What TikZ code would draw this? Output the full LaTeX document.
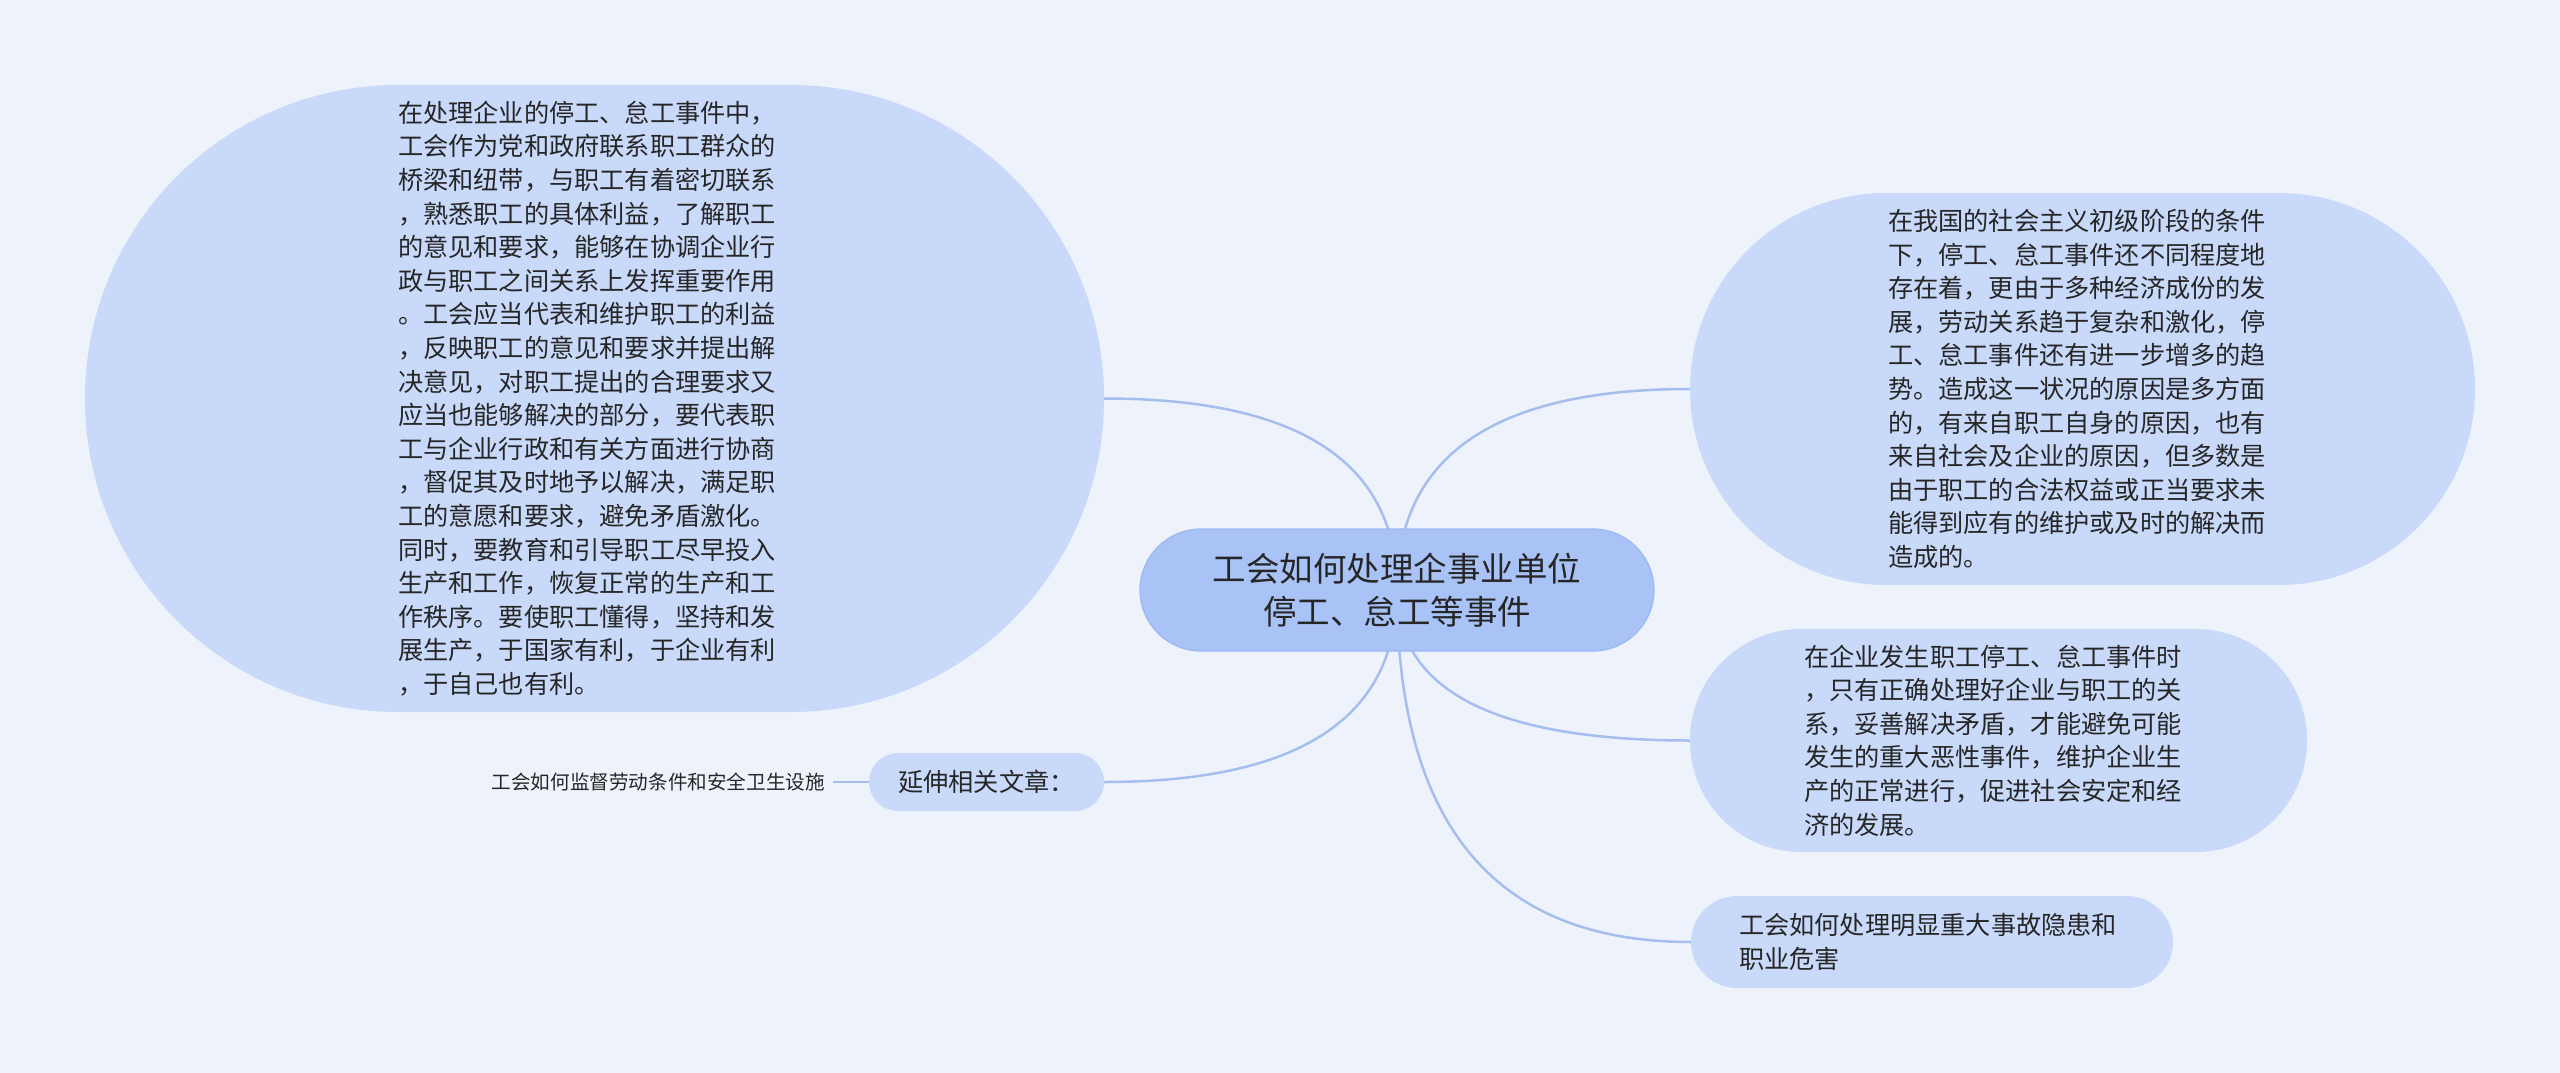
\documentclass[tikz,border=0pt]{standalone}
\usepackage{fontspec}
\setmainfont{Noto Sans CJK SC}
\usetikzlibrary{calc,backgrounds}
\definecolor{bgc}{HTML}{EEF3FB}
\definecolor{nodec}{HTML}{C9D9FA}
\definecolor{rootc}{HTML}{A9C3F7}
\definecolor{rootb}{HTML}{9DB8F2}
\definecolor{linec}{HTML}{A6BEEE}
\definecolor{txt}{HTML}{262626}
\newcommand\mmlink[2]{\draw[link] (#1.center) .. controls ($(#1.center)!0.6667!(#1.center|-#2)$) and ($(#2)!0.6667!(#1.center|-#2)$) .. (#2);}
\begin{document}
\begin{tikzpicture}[x=1pt,y=-1pt,
  box/.style={fill=nodec, inner sep=0pt, text=txt, align=left, font=\fontsize{25.2pt}{33.6pt}\selectfont},
  rootbox/.style={fill=rootc, draw=rootb, line width=1.2pt, inner sep=0pt, text=txt, align=center, font=\fontsize{33.5pt}{43pt}\selectfont},
  leafstyle/.style={text=txt, inner xsep=8pt, inner ysep=0pt, font=\fontsize{19.6pt}{24pt}\selectfont},
  link/.style={draw=linec, line width=2.5pt}]
\useasboundingbox (0,0) rectangle (2560,1073);

\node[rootbox, minimum width=514pt, minimum height=122pt, rounded corners=61pt] (root) at (1397,590)
  {工会如何处理企事业单位\\停工、怠工等事件};

\node[box, text width=393pt, minimum width=1019pt, minimum height=627pt, rounded corners=313pt] (L) at (594.5,398.5)
  {在处理企业的停工、怠工事件中，\\工会作为党和政府联系职工群众的\\桥梁和纽带，与职工有着密切联系\\，熟悉职工的具体利益，了解职工\\的意见和要求，能够在协调企业行\\政与职工之间关系上发挥重要作用\\。工会应当代表和维护职工的利益\\，反映职工的意见和要求并提出解\\决意见，对职工提出的合理要求又\\应当也能够解决的部分，要代表职\\工与企业行政和有关方面进行协商\\，督促其及时地予以解决，满足职\\工的意愿和要求，避免矛盾激化。\\同时，要教育和引导职工尽早投入\\生产和工作，恢复正常的生产和工\\作秩序。要使职工懂得，坚持和发\\展生产，于国家有利，于企业有利\\，于自己也有利。};

\node[box, text width=389pt, minimum width=785pt, minimum height=392pt, rounded corners=196pt] (R1) at (2082.5,389)
  {在我国的社会主义初级阶段的条件\\下，停工、怠工事件还不同程度地\\存在着，更由于多种经济成份的发\\展，劳动关系趋于复杂和激化，停\\工、怠工事件还有进一步增多的趋\\势。造成这一状况的原因是多方面\\的，有来自职工自身的原因，也有\\来自社会及企业的原因，但多数是\\由于职工的合法权益或正当要求未\\能得到应有的维护或及时的解决而\\造成的。};

\node[box, text width=389pt, minimum width=617pt, minimum height=223pt, rounded corners=111pt] (R2) at (1998.5,740.5)
  {在企业发生职工停工、怠工事件时\\，只有正确处理好企业与职工的关\\系，妥善解决矛盾，才能避免可能\\发生的重大恶性事件，维护企业生\\产的正常进行，促进社会安定和经\\济的发展。};

\node[box, text width=386pt, minimum width=482pt, minimum height=92pt, rounded corners=46pt] (R3) at (1932,942)
  {工会如何处理明显重大事故隐患和\\职业危害};

\node[box, minimum width=235pt, minimum height=58pt, rounded corners=29pt] (E) at (986.5,782)
  {延伸相关文章：};

\node[leafstyle, anchor=east] (leaf) at (833,782) {工会如何监督劳动条件和安全卫生设施};

\begin{scope}[on background layer]
  \fill[bgc] (0,0) rectangle (2560,1073);
  \mmlink{root}{L.east}
  \mmlink{root}{R1.west}
  \mmlink{root}{R2.west}
  \mmlink{root}{R3.west}
  \mmlink{root}{E.east}
  \draw[link] (E.west) -- (leaf.east);
\end{scope}
\end{tikzpicture}
\end{document}
